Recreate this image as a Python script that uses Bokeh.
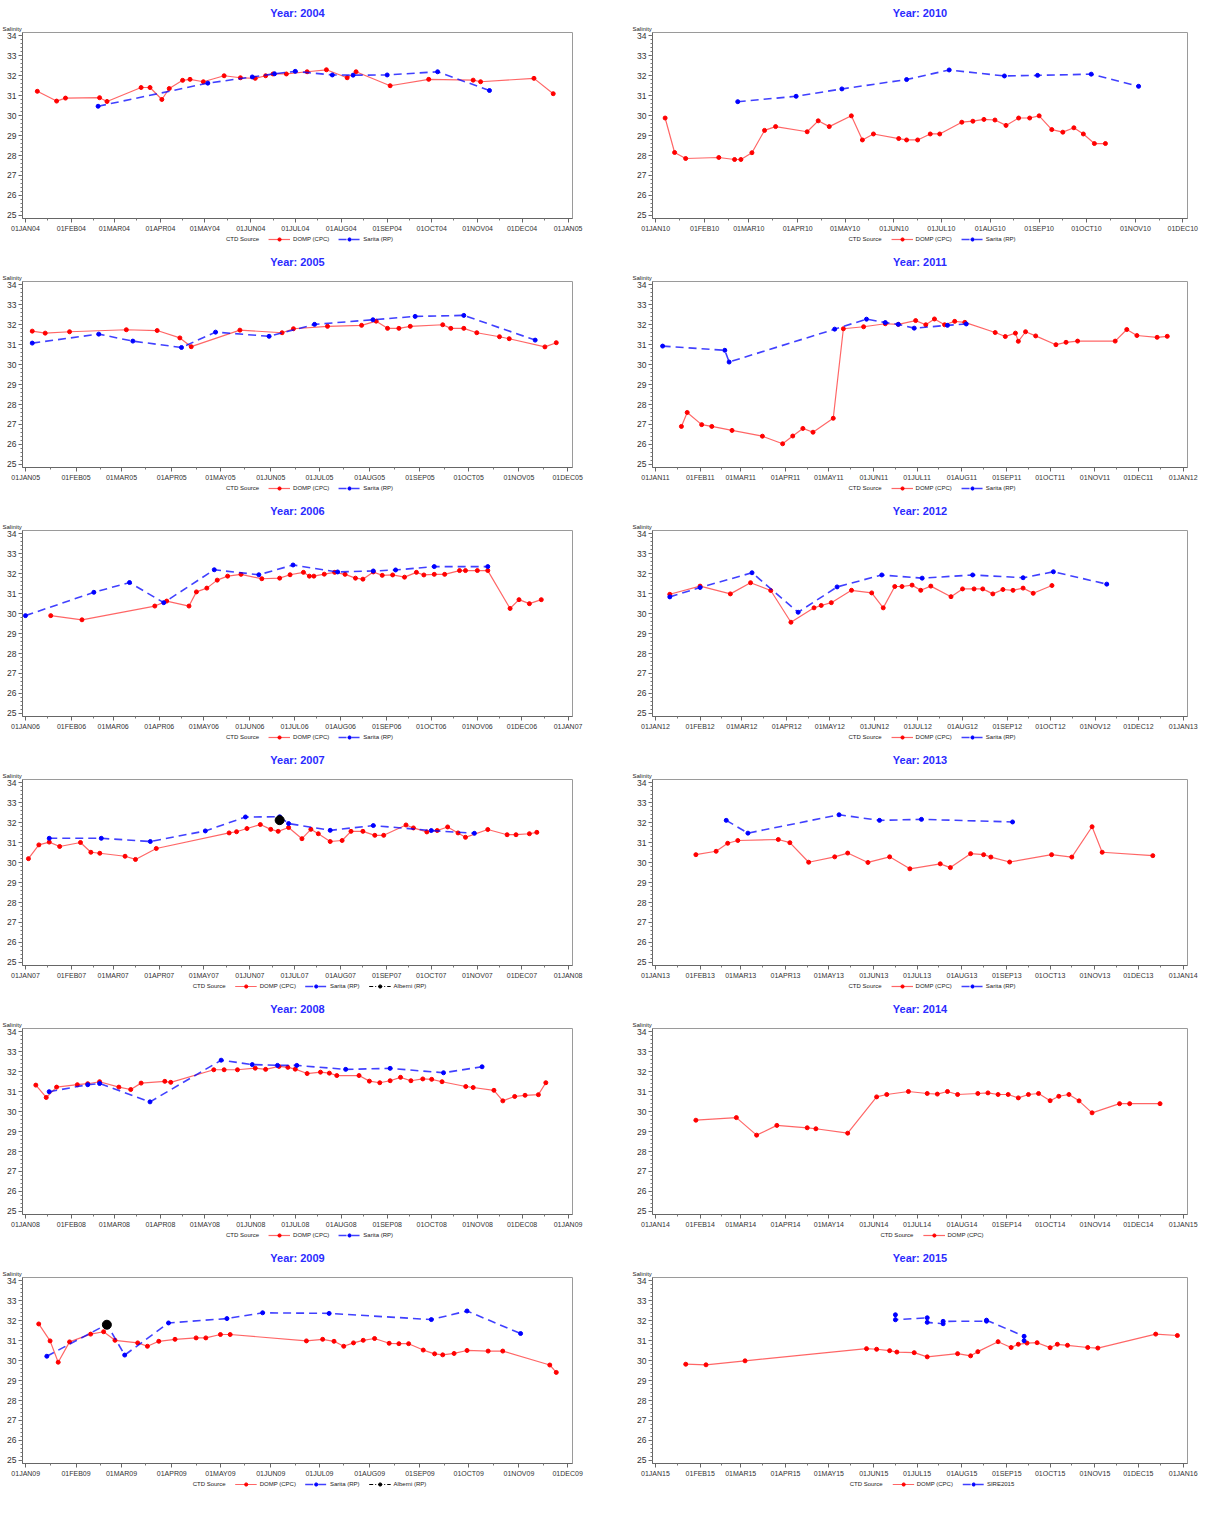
import pandas as pd
from bokeh.plotting import figure
from bokeh.models import Title, Legend, LegendItem, FixedTicker, SingleIntervalTicker, Range1d
from bokeh.layouts import row, column
from bokeh.embed import file_html
from bokeh.resources import INLINE

MONTHS = ["JAN", "FEB", "MAR", "APR", "MAY", "JUN", "JUL", "AUG", "SEP", "OCT", "NOV", "DEC"]
Y_MIN, Y_MAX = 25, 34

# ---------------- 2004 ----------------
DOMP_2004_DATES = ["01-09", "01-22", "01-28", "02-20", "02-25", "03-19", "03-25", "04-02", "04-07", "04-16",
                   "04-21", "04-30", "05-14", "05-25", "06-04", "06-11", "06-16", "06-25", "07-09", "07-22",
                   "08-05", "08-11", "09-03", "09-29", "10-29", "11-03", "12-09", "12-22"]
DOMP_2004_SAL = [31.22, 30.73, 30.88, 30.90, 30.71, 31.41, 31.41, 30.81, 31.36, 31.77,
                 31.82, 31.70, 32.00, 31.90, 31.87, 32.00, 32.09, 32.09, 32.20, 32.30,
                 31.90, 32.20, 31.50, 31.82, 31.78, 31.70, 31.87, 31.10]
SARITA_2004_DATES = ["02-19", "05-03", "06-02", "06-17", "07-01", "07-26", "08-09", "09-01", "10-05", "11-09"]
SARITA_2004_SAL = [30.47, 31.63, 31.94, 32.10, 32.22, 32.04, 32.03, 32.04, 32.20, 31.26]

# ---------------- 2005 ----------------
DOMP_2005_DATES = ["01-05", "01-13", "01-28", "03-04", "03-23", "04-06", "04-13", "05-13", "06-08", "06-15",
                   "07-06", "07-27", "08-05", "08-12", "08-19", "08-26", "09-15", "09-20", "09-28", "10-06",
                   "10-20", "10-26", "11-17", "11-24"]
DOMP_2005_SAL = [31.68, 31.58, 31.65, 31.75, 31.71, 31.34, 30.90, 31.73, 31.60, 31.80,
                 31.92, 31.97, 32.18, 31.82, 31.82, 31.92, 32.00, 31.82, 31.82, 31.60,
                 31.40, 31.30, 30.89, 31.10]
SARITA_2005_DATES = ["01-05", "02-15", "03-08", "04-07", "04-28", "05-31", "06-28", "08-03", "08-29", "09-28", "11-11"]
SARITA_2005_SAL = [31.08, 31.53, 31.18, 30.86, 31.63, 31.42, 32.02, 32.25, 32.42, 32.47, 31.23]

# ---------------- 2006 ----------------
DOMP_2006_DATES = ["01-18", "02-08", "03-29", "04-06", "04-21", "04-26", "05-03", "05-10", "05-17", "05-26",
                   "06-09", "06-21", "06-28", "07-07", "07-11", "07-14", "07-21", "07-28", "08-04", "08-11",
                   "08-16", "08-23", "08-29", "09-05", "09-13", "09-21", "09-26", "10-03", "10-10", "10-20",
                   "10-24", "11-01", "11-08", "11-23", "11-29", "12-06", "12-14"]
DOMP_2006_SAL = [29.90, 29.69, 30.38, 30.63, 30.38, 31.09, 31.28, 31.68, 31.88, 31.97,
                 31.75, 31.78, 31.95, 32.07, 31.88, 31.88, 31.98, 32.07, 31.97, 31.78,
                 31.73, 32.09, 31.92, 31.94, 31.83, 32.07, 31.94, 31.97, 31.97, 32.16,
                 32.16, 32.16, 32.16, 30.26, 30.70, 30.50, 30.70]
SARITA_2006_DATES = ["01-01", "02-16", "03-12", "04-04", "05-08", "06-07", "06-30", "07-30", "08-23", "09-07", "10-03", "11-08"]
SARITA_2006_SAL = [29.90, 31.07, 31.56, 30.55, 32.20, 31.95, 32.44, 32.09, 32.14, 32.19, 32.36, 32.36]

# ---------------- 2007 ----------------
DOMP_2007_DATES = ["01-03", "01-10", "01-17", "01-24", "02-07", "02-14", "02-20", "03-09", "03-16", "03-30",
                   "05-18", "05-23", "05-30", "06-08", "06-15", "06-20", "06-27", "07-06", "07-12", "07-17",
                   "07-25", "08-02", "08-08", "08-16", "08-24", "08-30", "09-14", "09-19", "09-28", "10-05",
                   "10-12", "10-19", "10-24", "11-08", "11-21", "11-27", "12-06", "12-11"]
DOMP_2007_SAL = [30.20, 30.89, 31.03, 30.81, 31.01, 30.52, 30.47, 30.32, 30.16, 30.71,
                 31.49, 31.55, 31.71, 31.91, 31.67, 31.57, 31.76, 31.20, 31.67, 31.45,
                 31.06, 31.11, 31.57, 31.57, 31.37, 31.37, 31.89, 31.74, 31.54, 31.61,
                 31.79, 31.49, 31.27, 31.66, 31.40, 31.40, 31.45, 31.52]
SARITA_2007_DATES = ["01-17", "02-21", "03-26", "05-02", "05-29", "06-21", "06-27", "07-25", "08-23", "10-01", "10-30"]
SARITA_2007_SAL = [31.22, 31.22, 31.06, 31.59, 32.29, 32.30, 31.96, 31.62, 31.86, 31.61, 31.47]
ALBERNI_2007_DATES = ["06-21"]
ALBERNI_2007_SAL = [32.13]

# ---------------- 2008 ----------------
DOMP_2008_DATES = ["01-08", "01-15", "01-22", "02-05", "02-12", "02-20", "03-04", "03-12", "03-19", "04-04",
                   "04-08", "05-07", "05-14", "05-23", "06-04", "06-11", "06-20", "06-26", "07-01", "07-09",
                   "07-18", "07-24", "07-29", "08-13", "08-20", "08-27", "09-03", "09-10", "09-17", "09-25",
                   "10-01", "10-08", "10-24", "10-29", "11-12", "11-18", "11-26", "12-03", "12-12", "12-17"]
DOMP_2008_SAL = [31.33, 30.71, 31.23, 31.35, 31.40, 31.50, 31.23, 31.11, 31.43, 31.52,
                 31.47, 32.10, 32.10, 32.10, 32.18, 32.12, 32.27, 32.22, 32.13, 31.91,
                 31.98, 31.93, 31.81, 31.81, 31.53, 31.45, 31.55, 31.72, 31.55, 31.64,
                 31.62, 31.50, 31.26, 31.21, 31.07, 30.54, 30.76, 30.82, 30.85, 31.45]
SARITA_2008_DATES = ["01-17", "02-12", "02-20", "03-25", "05-12", "06-02", "06-19", "07-02", "08-04", "09-03", "10-09", "11-04"]
SARITA_2008_SAL = [31.00, 31.35, 31.41, 30.49, 32.58, 32.36, 32.32, 32.32, 32.12, 32.17, 31.95, 32.25]

# ---------------- 2009 ----------------
DOMP_2009_DATES = ["01-09", "01-16", "01-21", "01-28", "02-10", "02-18", "02-25", "03-11", "03-17", "03-24",
                   "04-03", "04-16", "04-22", "05-01", "05-07", "06-23", "07-03", "07-10", "07-16", "07-22",
                   "07-28", "08-04", "08-13", "08-19", "08-25", "09-03", "09-10", "09-15", "09-22", "09-30",
                   "10-13", "10-22", "11-20", "11-24"]
DOMP_2009_SAL = [31.84, 30.99, 29.92, 30.94, 31.33, 31.45, 31.02, 30.89, 30.72, 30.97,
                 31.07, 31.14, 31.14, 31.31, 31.31, 30.99, 31.07, 30.97, 30.72, 30.89,
                 31.02, 31.11, 30.87, 30.85, 30.85, 30.53, 30.34, 30.29, 30.36, 30.51,
                 30.48, 30.48, 29.78, 29.41]
SARITA_2009_DATES = ["01-14", "02-20", "03-03", "03-30", "05-05", "05-27", "07-07", "09-08", "09-30", "11-02"]
SARITA_2009_SAL = [30.22, 31.82, 30.28, 31.89, 32.11, 32.40, 32.37, 32.06, 32.49, 31.36]
ALBERNI_2009_DATES = ["02-20"]
ALBERNI_2009_SAL = [31.80]

# ---------------- 2010 ----------------
DOMP_2010_DATES = ["01-07", "01-13", "01-20", "02-10", "02-20", "02-24", "03-03", "03-11", "03-18", "04-07",
                   "04-14", "04-21", "05-05", "05-12", "05-19", "06-04", "06-09", "06-16", "06-24", "06-30",
                   "07-14", "07-21", "07-28", "08-04", "08-11", "08-19", "08-26", "09-01", "09-09", "09-16",
                   "09-23", "09-29", "10-06", "10-13"]
DOMP_2010_SAL = [29.88, 28.15, 27.85, 27.90, 27.80, 27.80, 28.14, 29.26, 29.45, 29.19,
                 29.74, 29.45, 29.99, 28.78, 29.08, 28.85, 28.78, 28.78, 29.08, 29.08,
                 29.67, 29.72, 29.81, 29.78, 29.51, 29.88, 29.88, 29.99, 29.30, 29.17,
                 29.39, 29.08, 28.60, 28.60]
SARITA_2010_DATES = ["02-22", "03-31", "04-29", "06-09", "07-06", "08-10", "08-31", "10-04", "11-03"]
SARITA_2010_SAL = [30.70, 30.97, 31.34, 31.81, 32.29, 31.99, 32.02, 32.08, 31.47]

# ---------------- 2011 ----------------
DOMP_2011_DATES = ["01-19", "01-23", "02-02", "02-09", "02-23", "03-16", "03-30", "04-06", "04-13", "04-20",
                   "05-04", "05-11", "05-25", "06-09", "06-18", "06-30", "07-07", "07-13", "07-20", "07-27",
                   "08-03", "08-24", "08-31", "09-07", "09-09", "09-14", "09-21", "10-05", "10-12", "10-20",
                   "11-15", "11-23", "11-30", "12-14", "12-21"]
DOMP_2011_SAL = [26.90, 27.60, 26.99, 26.90, 26.70, 26.41, 26.03, 26.42, 26.80, 26.61,
                 27.31, 31.80, 31.90, 32.05, 32.02, 32.21, 32.00, 32.29, 32.00, 32.17,
                 32.12, 31.61, 31.41, 31.58, 31.17, 31.65, 31.44, 31.00, 31.12, 31.18,
                 31.18, 31.76, 31.46, 31.37, 31.42]
SARITA_2011_DATES = ["01-06", "02-18", "02-21", "05-05", "05-27", "06-09", "06-18", "06-29", "07-22", "08-04"]
SARITA_2011_SAL = [30.93, 30.72, 30.13, 31.78, 32.28, 32.11, 32.02, 31.83, 31.97, 32.04]

# ---------------- 2012 ----------------
DOMP_2012_DATES = ["01-11", "02-01", "02-22", "03-07", "03-21", "04-04", "04-20", "04-25", "05-02", "05-16",
                   "05-30", "06-07", "06-15", "06-20", "06-27", "07-03", "07-10", "07-24", "08-01", "08-09",
                   "08-15", "08-22", "08-29", "09-05", "09-12", "09-19", "10-02"]
DOMP_2012_SAL = [30.97, 31.38, 30.99, 31.55, 31.16, 29.57, 30.29, 30.41, 30.55, 31.17,
                 31.04, 30.29, 31.36, 31.36, 31.43, 31.17, 31.38, 30.85, 31.24, 31.24,
                 31.24, 30.99, 31.21, 31.17, 31.28, 31.02, 31.41]
SARITA_2012_DATES = ["01-11", "02-01", "03-08", "04-09", "05-06", "06-06", "07-04", "08-08", "09-12", "10-03", "11-09"]
SARITA_2012_SAL = [30.84, 31.31, 32.05, 30.07, 31.34, 31.94, 31.78, 31.94, 31.80, 32.10, 31.48]

# ---------------- 2013 ----------------
DOMP_2013_DATES = ["01-29", "02-12", "02-20", "02-27", "03-27", "04-04", "04-17", "05-05", "05-14", "05-28",
                   "06-12", "06-26", "07-17", "07-24", "08-07", "08-16", "08-21", "09-03", "10-02", "10-16",
                   "10-30", "11-06", "12-11"]
DOMP_2013_SAL = [30.40, 30.57, 30.97, 31.11, 31.16, 31.00, 30.02, 30.29, 30.48, 30.01,
                 30.29, 29.69, 29.94, 29.75, 30.45, 30.40, 30.28, 30.03, 30.40, 30.28,
                 31.80, 30.52, 30.35]
SARITA_2013_DATES = ["02-19", "03-06", "05-08", "06-05", "07-04", "09-05"]
SARITA_2013_SAL = [32.12, 31.48, 32.40, 32.12, 32.17, 32.04]

# ---------------- 2014 ----------------
DOMP_2014_DATES = ["01-29", "02-26", "03-12", "03-26", "04-16", "04-22", "05-14", "06-03", "06-10", "06-25",
                   "07-08", "07-15", "07-22", "07-29", "08-12", "08-19", "08-26", "09-02", "09-09", "09-16",
                   "09-23", "10-01", "10-07", "10-14", "10-21", "10-30", "11-18", "11-25", "12-16"]
DOMP_2014_SAL = [29.57, 29.70, 28.82, 29.31, 29.19, 29.14, 28.92, 30.74, 30.86, 31.01,
                 30.91, 30.88, 31.01, 30.86, 30.91, 30.94, 30.86, 30.86, 30.69, 30.86,
                 30.91, 30.55, 30.77, 30.86, 30.54, 29.94, 30.40, 30.40, 30.40]

# ---------------- 2015 ----------------
DOMP_2015_DATES = ["01-22", "02-05", "03-04", "05-27", "06-03", "06-12", "06-17", "06-29", "07-08", "07-29",
                   "08-07", "08-12", "08-26", "09-04", "09-09", "09-15", "09-22", "10-01", "10-06", "10-13",
                   "10-27", "11-03", "12-13", "12-28"]
DOMP_2015_SAL = [29.82, 29.79, 29.99, 30.60, 30.57, 30.50, 30.43, 30.40, 30.19, 30.35,
                 30.24, 30.45, 30.95, 30.66, 30.82, 30.88, 30.90, 30.65, 30.82, 30.77,
                 30.66, 30.63, 31.33, 31.26]
SIRE_2015_DATES = ["06-16", "06-16", "07-08", "07-08", "07-19", "07-19", "08-18", "08-18", "09-13", "09-13"]
SIRE_2015_SAL = [32.30, 32.05, 32.15, 31.92, 31.85, 31.97, 31.98, 32.03, 31.22, 31.00]

STYLES = {
    "DOMP (CPC)": dict(color="#ff0000", dash="solid", width=1.2, alpha=0.6, size=4),
    "Sarita (RP)": dict(color="#0000ff", dash="8 5", width=1.6, alpha=0.75, size=4),
    "Alberni (RP)": dict(color="#000000", dash="4 2 1 2", width=1.2, alpha=1.0, size=9),
    "SIRE2015": dict(color="#0000ff", dash="8 5", width=1.6, alpha=0.75, size=4),
}

LEFT = [
    (2004, (2005, 1), [("DOMP (CPC)", DOMP_2004_DATES, DOMP_2004_SAL), ("Sarita (RP)", SARITA_2004_DATES, SARITA_2004_SAL)]),
    (2005, (2005, 12), [("DOMP (CPC)", DOMP_2005_DATES, DOMP_2005_SAL), ("Sarita (RP)", SARITA_2005_DATES, SARITA_2005_SAL)]),
    (2006, (2007, 1), [("DOMP (CPC)", DOMP_2006_DATES, DOMP_2006_SAL), ("Sarita (RP)", SARITA_2006_DATES, SARITA_2006_SAL)]),
    (2007, (2008, 1), [("DOMP (CPC)", DOMP_2007_DATES, DOMP_2007_SAL), ("Sarita (RP)", SARITA_2007_DATES, SARITA_2007_SAL),
                       ("Alberni (RP)", ALBERNI_2007_DATES, ALBERNI_2007_SAL)]),
    (2008, (2009, 1), [("DOMP (CPC)", DOMP_2008_DATES, DOMP_2008_SAL), ("Sarita (RP)", SARITA_2008_DATES, SARITA_2008_SAL)]),
    (2009, (2009, 12), [("DOMP (CPC)", DOMP_2009_DATES, DOMP_2009_SAL), ("Sarita (RP)", SARITA_2009_DATES, SARITA_2009_SAL),
                        ("Alberni (RP)", ALBERNI_2009_DATES, ALBERNI_2009_SAL)]),
]
RIGHT = [
    (2010, (2010, 12), [("DOMP (CPC)", DOMP_2010_DATES, DOMP_2010_SAL), ("Sarita (RP)", SARITA_2010_DATES, SARITA_2010_SAL)]),
    (2011, (2012, 1), [("DOMP (CPC)", DOMP_2011_DATES, DOMP_2011_SAL), ("Sarita (RP)", SARITA_2011_DATES, SARITA_2011_SAL)]),
    (2012, (2013, 1), [("DOMP (CPC)", DOMP_2012_DATES, DOMP_2012_SAL), ("Sarita (RP)", SARITA_2012_DATES, SARITA_2012_SAL)]),
    (2013, (2014, 1), [("DOMP (CPC)", DOMP_2013_DATES, DOMP_2013_SAL), ("Sarita (RP)", SARITA_2013_DATES, SARITA_2013_SAL)]),
    (2014, (2015, 1), [("DOMP (CPC)", DOMP_2014_DATES, DOMP_2014_SAL)]),
    (2015, (2016, 1), [("DOMP (CPC)", DOMP_2015_DATES, DOMP_2015_SAL), ("SIRE2015", SIRE_2015_DATES, SIRE_2015_SAL)]),
]

FONT = "Liberation Sans"
PANEL_H = 249
LEGEND_H = 15
BORDER_L = 22
BORDER_R = 28


def to_ms(ts):
    return float(pd.Timestamp(ts).value // 10**6)


def make_panel(year, end, series, width):
    start = pd.Timestamp(year=year, month=1, day=1)
    stop = pd.Timestamp(year=end[0], month=end[1], day=1)
    months = pd.date_range(start, stop, freq="MS")
    ticks = [to_ms(t) for t in months]
    minor = [to_ms(t + pd.Timedelta(days=15)) for t in months[:-1]]
    labels = {to_ms(t): "01" + MONTHS[t.month - 1] + t.strftime("%y") for t in months}

    p = figure(width=width, height=PANEL_H - LEGEND_H, x_axis_type="datetime",
               x_range=Range1d(start - pd.Timedelta(days=2), stop + pd.Timedelta(days=3)),
               y_range=Range1d(Y_MIN - 0.16, Y_MAX + 0.17),
               output_backend="svg", toolbar_location=None, title=None,
               min_border_left=BORDER_L, min_border_right=BORDER_R, min_border_top=4, min_border_bottom=2)
    p.xgrid.visible = False
    p.ygrid.visible = False
    p.outline_line_color = "#9a9a9a"
    p.outline_line_width = 1

    p.xaxis.ticker = FixedTicker(ticks=ticks, minor_ticks=minor)
    p.xaxis.major_label_overrides = labels
    p.yaxis.ticker = SingleIntervalTicker(interval=1, num_minor_ticks=5)
    for ax in (p.xaxis[0], p.yaxis[0]):
        ax.major_label_text_font = FONT
        ax.major_label_text_color = "#333333"
        ax.axis_line_color = "#666666"
        ax.major_tick_line_color = "#666666"
        ax.minor_tick_line_color = "#777777"
        ax.major_tick_in = 0
        ax.minor_tick_in = 0
        ax.major_tick_out = 4
        ax.minor_tick_out = 2
    p.xaxis.major_label_text_font_size = "7px"
    p.yaxis.major_label_text_font_size = "8.5px"
    p.xaxis.major_label_standoff = 2
    p.yaxis.major_label_standoff = 2

    # separate strip that carries the legend below the x axis; its ranges exclude
    # the proxy glyphs, which exist only so the legend can draw its samples
    lg = figure(width=width, height=LEGEND_H, toolbar_location=None, output_backend="svg",
                x_axis_type=None, y_axis_type=None, min_border=0,
                x_range=Range1d(0, 1), y_range=Range1d(0, 1),
                min_border_left=BORDER_L, min_border_right=BORDER_R)
    lg.outline_line_color = None
    lg.xgrid.visible = False
    lg.ygrid.visible = False
    dummy = lg.line(x=[], y=[], line_alpha=0)
    items = [LegendItem(label="CTD Source", renderers=[dummy])]

    for name, dates, vals in series:
        st = STYLES[name]
        xs = pd.to_datetime([f"{year}-{d}" for d in dates])
        p.line(x=xs, y=vals, line_color=st["color"], line_dash=st["dash"],
               line_width=st["width"], line_alpha=st["alpha"])
        p.scatter(x=xs, y=vals, size=st["size"], fill_color=st["color"], line_color=st["color"],
                  marker="circle")
        lln = lg.line(x=xs[:1], y=vals[:1], line_color=st["color"], line_dash=st["dash"],
                      line_width=st["width"], line_alpha=st["alpha"])
        lsc = lg.scatter(x=xs[:1], y=vals[:1], size=min(st["size"], 5), fill_color=st["color"],
                         line_color=st["color"], marker="circle")
        items.append(LegendItem(label=name, renderers=[lln, lsc]))

    legend = Legend(items=items, orientation="horizontal", location="top_center",
                    label_text_font=FONT, label_text_font_size="6px", label_text_color="#222222",
                    label_height=9, glyph_width=22, glyph_height=8, spacing=9,
                    padding=0, margin=0, label_standoff=3,
                    border_line_alpha=0, background_fill_alpha=0)
    lg.add_layout(legend)

    p.add_layout(Title(text="Salinity", align="left", offset=-20, text_font=FONT,
                       text_font_size="6px", text_font_style="normal", text_color="#222222",
                       standoff=1), "above")
    p.add_layout(Title(text=f"Year: {year}", align="center", text_font=FONT,
                       text_font_size="11px", text_font_style="bold", text_color="#2b2bff",
                       standoff=9), "above")
    return column(p, lg, spacing=0)


left = column([make_panel(y, e, s, 600) for y, e, s in LEFT], spacing=0)
right = column([make_panel(y, e, s, 585) for y, e, s in RIGHT], spacing=0)
layout = row(left, right, spacing=30)

open("out.html", "w").write(file_html(layout, INLINE))
